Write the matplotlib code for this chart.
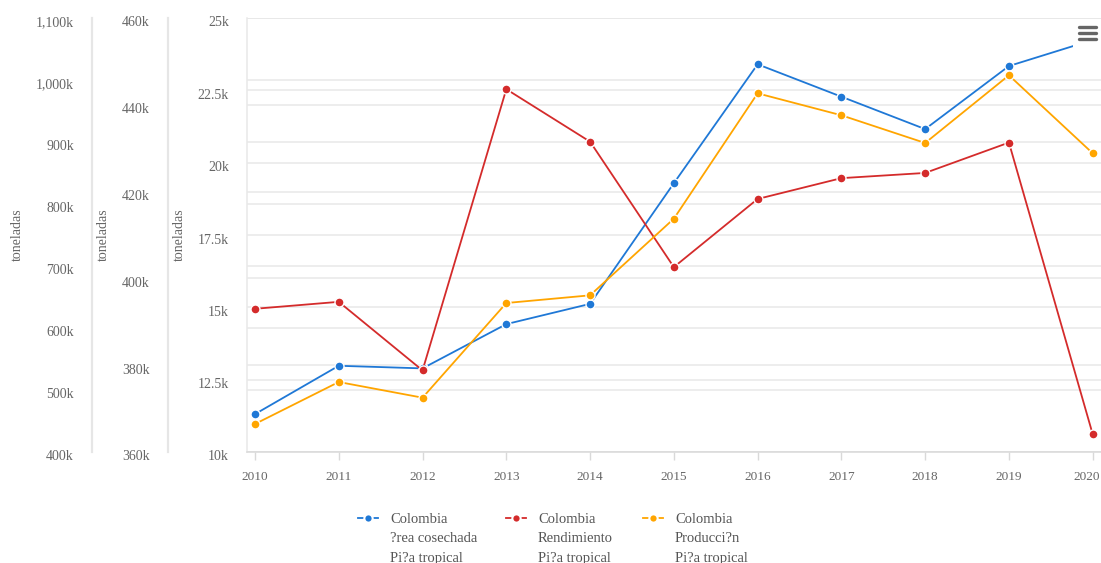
import matplotlib
matplotlib.use("Agg")
import matplotlib.pyplot as plt
import matplotlib.transforms as mtransforms
from matplotlib.lines import Line2D
from matplotlib.patches import Rectangle
from matplotlib.ticker import FuncFormatter

plt.rcParams['font.family'] = ['Liberation Serif', 'DejaVu Serif']

# datos
anios = [2010, 2011, 2012, 2013, 2014, 2015, 2016, 2017, 2018, 2019, 2020]
area_cosechada = [11310, 12980, 12890, 14420, 15120, 19290, 23400, 22280, 21160, 23340, 24240]
rendimiento = [393000, 394600, 378800, 443600, 431500, 402600, 418300, 423100, 424300, 431300, 364100]
produccion = [445200, 512900, 487600, 640300, 652700, 776300, 978500, 943100, 898400, 1007600, 881800]

etiquetas = ["Colombia\n?rea cosechada\nPi?a tropical",
             "Colombia\nRendimiento\nPi?a tropical",
             "Colombia\nProducci?n\nPi?a tropical"]
colores = ["#1f78d6", "#d42b2b", "#ffa500"]

ticks_area = [10000, 12500, 15000, 17500, 20000, 22500, 25000]
ticks_rend = [360000, 380000, 400000, 420000, 440000, 460000]
ticks_prod = [400000, 500000, 600000, 700000, 800000, 900000, 1000000, 1100000]

W, H = 1101, 563
gris_txt = "#666666"
gris_grid = "#e8e8e8"


def fx(px):
    return px / W


def fy(py):
    return 1 - py / H


def fmt_k(v, pos=None):
    s = f"{v / 1000:,.1f}".rstrip('0').rstrip('.')
    return s + "k"


fig = plt.figure(figsize=(W / 100, H / 100), dpi=100)
left, right, top, bottom = 247, 1101, 18, 452
ax = fig.add_axes([fx(left), fy(bottom), (right - left) / W, (bottom - top) / H])
ax_r = ax.twinx()
ax_o = ax.twinx()

paso = (1092.7 - 255) / 10
xlim = (2010 - (255 - left) / paso, 2020 + (right - 1092.7) / paso)
ax.set_ylim(ticks_area[0], ticks_area[-1])
ax_r.set_ylim(ticks_rend[0], ticks_rend[-1])
ax_o.set_ylim(ticks_prod[0], ticks_prod[-1])

offset = mtransforms.ScaledTranslation(0, -3.5 / 100, fig.dpi_scale_trans)

for a, tks, pos in [(ax, ticks_area, 0), (ax_r, ticks_rend, (168 - left) / (right - left)),
                    (ax_o, ticks_prod, (92 - left) / (right - left))]:
    a.set_yticks(tks)
    a.yaxis.set_major_formatter(FuncFormatter(fmt_k))
    a.yaxis.set_ticks_position('left')
    a.tick_params(axis='y', length=0, pad=13, labelsize=10, labelcolor=gris_txt)
    for s in a.spines.values():
        s.set_visible(False)
    a.spines['left'].set_visible(True)
    a.spines['left'].set_position(('axes', pos))
    for t in a.yaxis.get_major_ticks():
        t.label1.set_transform(t.label1.get_transform() + offset)
    a.patch.set_visible(False)
    # lineas de cuadricula en el eje de abajo
    trans = mtransforms.blended_transform_factory(ax.transAxes, a.transData)
    for v in tks:
        ax.add_line(Line2D([0, 1], [v, v], transform=trans, color=gris_grid, lw=1.1, zorder=0.5))

ax.spines['left'].set_color(gris_grid)
ax.spines['left'].set_linewidth(1.1)
ax_r.spines['left'].set_color("#e6e6e6")
ax_r.spines['left'].set_linewidth(1.6)
ax_o.spines['left'].set_color("#e6e6e6")
ax_o.spines['left'].set_linewidth(1.6)
ax.spines['bottom'].set_visible(True)
ax.spines['bottom'].set_color("#d9d9d9")
ax.spines['bottom'].set_linewidth(1.1)

ax.set_xticks(anios)
ax.tick_params(axis='x', length=6, width=1, color="#d9d9d9", pad=8, labelsize=9.5, labelcolor=gris_txt)
# la ultima etiqueta se corre a la izquierda para que quepa
ult = ax.xaxis.get_major_ticks()[-1].label1
ult.set_transform(ult.get_transform() + mtransforms.ScaledTranslation(-6 / 100, 0, fig.dpi_scale_trans))

estilo = dict(lw=1.3, marker='o', markersize=6.5, markeredgecolor='white', markeredgewidth=1, zorder=3)
ax.plot(anios, area_cosechada, color=colores[0], **estilo)
ax_r.plot(anios, rendimiento, color=colores[1], **estilo)
ax_o.plot(anios, produccion, color=colores[2], **estilo)
ax.set_xlim(*xlim)

# titulos de los ejes
for xp in [17.5, 103, 179.5]:
    fig.text(fx(xp), fy(235), "toneladas", rotation=90, ha='center', va='center',
             fontsize=10, color=gris_txt)

# leyenda
for i, x0 in enumerate([358, 506, 643]):
    fig.add_artist(Line2D([fx(x0), fx(x0 + 20)], [fy(518), fy(518)], color=colores[i], lw=1.3,
                          zorder=5))
    fig.add_artist(Line2D([fx(x0 + 10)], [fy(518)], color=colores[i], marker='o', markersize=6,
                          markeredgecolor='white', markeredgewidth=1.5, zorder=6))
    for j, linea in enumerate(etiquetas[i].split("\n")):
        fig.text(fx(x0 + 32), fy(523 + 19.5 * j), linea, ha='left', va='baseline',
                 fontsize=10.5, color="#555555")

# boton de menu
fig.add_artist(Rectangle((fx(1073), fy(52)), fx(1101) - fx(1073), fy(20) - fy(52),
                         facecolor='white', edgecolor='none', zorder=10))
for yb in [27, 33, 39]:
    fig.add_artist(Line2D([fx(1079), fx(1096)], [fy(yb), fy(yb)], color="#666666", lw=2.4,
                          solid_capstyle='round', zorder=11))

fig.savefig("out.png", dpi=100)
